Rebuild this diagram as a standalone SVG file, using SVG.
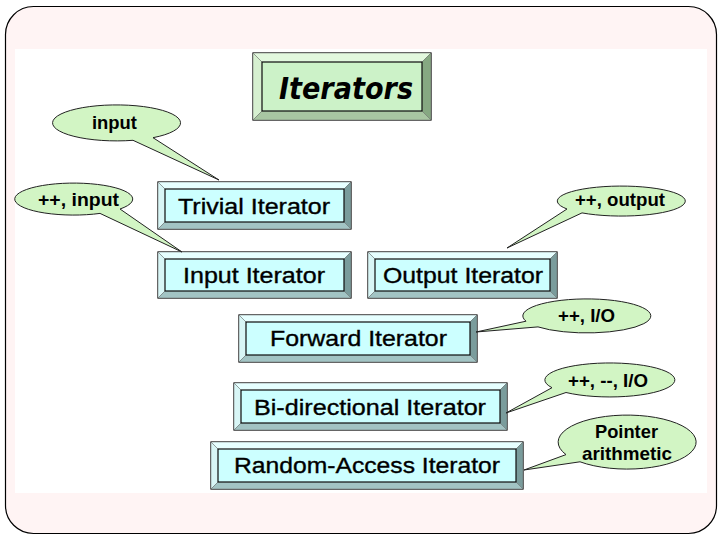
<svg xmlns="http://www.w3.org/2000/svg" width="720" height="540" viewBox="0 0 720 540">
<style>
.frame{fill:#fff4f4;stroke:#000;stroke-width:1.2}
.panel{fill:#ffffff}
.box .outer{stroke:#000;stroke-width:1.2}
.box polygon{stroke:#666;stroke-width:0.5}
.box .inner{fill:none;stroke:#000;stroke-width:1}
.cy .outer{fill:#ccffff}
.cy .t{fill:#e6ffff}.cy .l{fill:#d8f6f6}.cy .r{fill:#7a9c9c}.cy .b{fill:#a2c4c4}
.gr .outer{fill:#ccf2c8}
.gr .t{fill:#e2f8de}.gr .l{fill:#d6f0d0}.gr .r{fill:#86a882}.gr .b{fill:#a8c6a2}
.lbl{font-family:"Liberation Sans",Arial,sans-serif;font-size:22px;fill:#000;stroke:#000;stroke-width:0.35}
.title{font-family:"Comic Sans MS","DejaVu Sans",sans-serif;font-size:30px;font-weight:bold;font-style:italic;fill:#000}
.bub{fill:#d2f5c4;stroke:#222;stroke-width:1}
.btxt{font-family:"Liberation Sans",Arial,sans-serif;font-size:19px;font-weight:bold;fill:#000}
</style>
<rect class="frame" x="5.5" y="6.5" width="711" height="527" rx="28" ry="28"/>
<rect class="panel" x="15" y="49" width="692" height="444"/>

<g id="iterators" class="box gr">
<rect class="outer" x="253" y="53" width="178" height="67"/>
<polygon class="t" points="253,53 431,53 422,62 262,62"/>
<polygon class="l" points="253,53 262,62 262,111 253,120"/>
<polygon class="r" points="431,53 431,120 422,111 422,62"/>
<polygon class="b" points="253,120 431,120 422,111 262,111"/>
<rect class="inner" x="262" y="62" width="160" height="49"/>
<text class="title" x="279" y="99" textLength="134" lengthAdjust="spacingAndGlyphs">Iterators</text>
</g>

<g id="trivial" class="box cy">
<rect class="outer" x="158" y="182" width="193" height="47"/>
<polygon class="t" points="158,182 351,182 344,189 165,189"/>
<polygon class="l" points="158,182 165,189 165,222 158,229"/>
<polygon class="r" points="351,182 351,229 344,222 344,189"/>
<polygon class="b" points="158,229 351,229 344,222 165,222"/>
<rect class="inner" x="165" y="189" width="179" height="33"/>
<text class="lbl" x="178" y="214" textLength="152" lengthAdjust="spacingAndGlyphs">Trivial Iterator</text>
</g>

<g id="input" class="box cy">
<rect class="outer" x="158" y="252" width="193" height="46"/>
<polygon class="t" points="158,252 351,252 344,259 165,259"/>
<polygon class="l" points="158,252 165,259 165,291 158,298"/>
<polygon class="r" points="351,252 351,298 344,291 344,259"/>
<polygon class="b" points="158,298 351,298 344,291 165,291"/>
<rect class="inner" x="165" y="259" width="179" height="32"/>
<text class="lbl" x="183" y="283" textLength="142" lengthAdjust="spacingAndGlyphs">Input Iterator</text>
</g>

<g id="output" class="box cy">
<rect class="outer" x="368" y="252" width="189" height="46"/>
<polygon class="t" points="368,252 557,252 550,259 375,259"/>
<polygon class="l" points="368,252 375,259 375,291 368,298"/>
<polygon class="r" points="557,252 557,298 550,291 550,259"/>
<polygon class="b" points="368,298 557,298 550,291 375,291"/>
<rect class="inner" x="375" y="259" width="175" height="32"/>
<text class="lbl" x="383" y="283" textLength="160" lengthAdjust="spacingAndGlyphs">Output Iterator</text>
</g>

<g id="forward" class="box cy">
<rect class="outer" x="239" y="315" width="238" height="47"/>
<polygon class="t" points="239,315 477,315 470,322 246,322"/>
<polygon class="l" points="239,315 246,322 246,355 239,362"/>
<polygon class="r" points="477,315 477,362 470,355 470,322"/>
<polygon class="b" points="239,362 477,362 470,355 246,355"/>
<rect class="inner" x="246" y="322" width="224" height="33"/>
<text class="lbl" x="270" y="346" textLength="177" lengthAdjust="spacingAndGlyphs">Forward Iterator</text>
</g>

<g id="bidirectional" class="box cy">
<rect class="outer" x="234" y="383" width="273" height="47"/>
<polygon class="t" points="234,383 507,383 500,390 241,390"/>
<polygon class="l" points="234,383 241,390 241,423 234,430"/>
<polygon class="r" points="507,383 507,430 500,423 500,390"/>
<polygon class="b" points="234,430 507,430 500,423 241,423"/>
<rect class="inner" x="241" y="390" width="259" height="33"/>
<text class="lbl" x="254" y="415" textLength="232" lengthAdjust="spacingAndGlyphs">Bi-directional Iterator</text>
</g>

<g id="random" class="box cy">
<rect class="outer" x="211" y="442" width="312" height="47"/>
<polygon class="t" points="211,442 523,442 516,449 218,449"/>
<polygon class="l" points="211,442 218,449 218,482 211,489"/>
<polygon class="r" points="523,442 523,489 516,482 516,449"/>
<polygon class="b" points="211,489 523,489 516,482 218,482"/>
<rect class="inner" x="218" y="449" width="298" height="33"/>
<text class="lbl" x="234" y="473" textLength="266" lengthAdjust="spacingAndGlyphs">Random-Access Iterator</text>
</g>

<g id="connectors">
<g id="c-input">
<path class="bub" d="M133,140.3 L219,180 L153,137.7 A64,18 0 1 0 133,140.3 Z"/>
<text class="btxt" x="92" y="129" textLength="45" lengthAdjust="spacingAndGlyphs">input</text>
</g>
<g id="c-inc-input">
<path class="bub" d="M100,213.4 L182,252 L120,209 A59,16 0 1 0 100,213.4 Z"/>
<text class="btxt" x="38" y="206" textLength="81" lengthAdjust="spacingAndGlyphs">++, input</text>
</g>
<g id="c-inc-output">
<path class="bub" d="M567,209 L507,248 L582,212.9 A64,15 0 1 0 567,209 Z"/>
<text class="btxt" x="575" y="206" textLength="90" lengthAdjust="spacingAndGlyphs">++, output</text>
</g>
<g id="c-io">
<path class="bub" d="M526,321.2 L476,332 L538,326.9 A64,17 0 1 0 526,321.2 Z"/>
<text class="btxt" x="558" y="322" textLength="57" lengthAdjust="spacingAndGlyphs">++, I/O</text>
</g>
<g id="c-bidi">
<path class="bub" d="M552,387.7 L506,413 L566,392.5 A65,17 0 1 0 552,387.7 Z"/>
<text class="btxt" x="568" y="387" textLength="80" lengthAdjust="spacingAndGlyphs">++, --, I/O</text>
</g>
<g id="c-pointer">
<path class="bub" d="M566,454.6 L524,470 L580,461.8 A69,27 0 1 0 566,454.6 Z"/>
<text class="btxt" x="595" y="438" textLength="63" lengthAdjust="spacingAndGlyphs">Pointer</text>
<text class="btxt" x="582" y="460" textLength="90" lengthAdjust="spacingAndGlyphs">arithmetic</text>
</g>
</g>
</svg>
